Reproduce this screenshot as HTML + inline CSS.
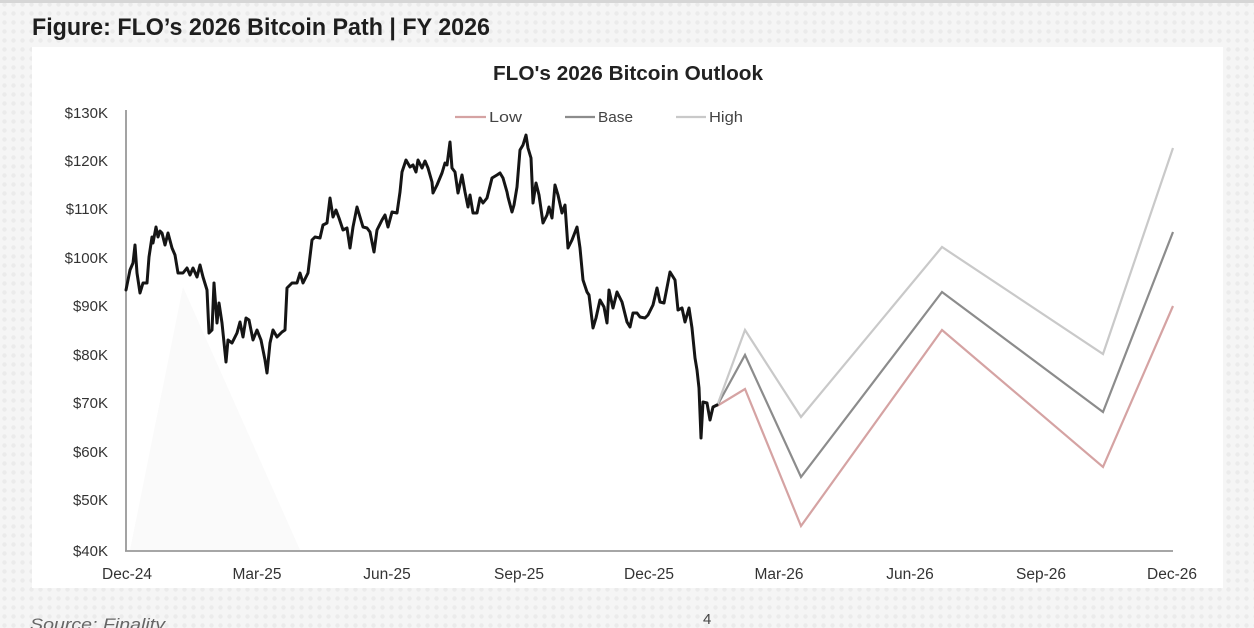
<!DOCTYPE html>
<html>
<head>
<meta charset="utf-8">
<style>
html,body{margin:0;padding:0;background:#f4f4f4;}
svg{display:block;}
text{font-family:"Liberation Sans","DejaVu Sans",sans-serif;}
</style>
</head>
<body>
<svg width="1254" height="628" viewBox="0 0 1254 628" xmlns="http://www.w3.org/2000/svg">
  <defs>
    <pattern id="dots" width="9" height="9" patternUnits="userSpaceOnUse">
      <rect width="9" height="9" fill="#f5f5f5"/>
      <circle cx="4.5" cy="4.5" r="2.2" fill="#ebebeb"/>
    </pattern>
  </defs>
  <rect x="0" y="0" width="1254" height="628" fill="url(#dots)"/>
  <rect x="0" y="0" width="1254" height="3" fill="#d6d6d6"/>
  <!-- white chart area -->
  <rect x="32" y="47" width="1191" height="541" fill="#ffffff"/>
  <!-- faint watermark triangle -->
  <polygon points="183,287 130,550 300,550" fill="#fafafa"/>

  <!-- Titles -->
  <text x="32" y="35" font-size="24" font-weight="bold" fill="#1e1e1e" textLength="458" lengthAdjust="spacingAndGlyphs">Figure: FLO’s 2026 Bitcoin Path | FY 2026</text>
  <text x="493" y="80" font-size="20" font-weight="bold" fill="#222" textLength="270" lengthAdjust="spacingAndGlyphs">FLO's 2026 Bitcoin Outlook</text>

  <!-- Legend -->
  <line x1="455" y1="117" x2="486" y2="117" stroke="#d5a3a3" stroke-width="2.2"/>
  <text x="489" y="122" font-size="15" fill="#444" textLength="33" lengthAdjust="spacingAndGlyphs">Low</text>
  <line x1="565" y1="117" x2="595" y2="117" stroke="#8c8c8c" stroke-width="2.2"/>
  <text x="598" y="122" font-size="15" fill="#444" textLength="35" lengthAdjust="spacingAndGlyphs">Base</text>
  <line x1="676" y1="117" x2="706" y2="117" stroke="#c9c9c9" stroke-width="2.2"/>
  <text x="709" y="122" font-size="15" fill="#444" textLength="34" lengthAdjust="spacingAndGlyphs">High</text>

  <!-- Y axis labels -->
  <g font-size="15" fill="#333" text-anchor="end">
    <text x="108" y="118">$130K</text>
    <text x="108" y="166">$120K</text>
    <text x="108" y="214">$110K</text>
    <text x="108" y="263">$100K</text>
    <text x="108" y="311">$90K</text>
    <text x="108" y="360">$80K</text>
    <text x="108" y="408">$70K</text>
    <text x="108" y="457">$60K</text>
    <text x="108" y="505">$50K</text>
    <text x="108" y="556">$40K</text>
  </g>

  <!-- X axis labels -->
  <g font-size="15.5" fill="#333" text-anchor="middle">
    <text x="127" y="579">Dec-24</text>
    <text x="257" y="579">Mar-25</text>
    <text x="387" y="579">Jun-25</text>
    <text x="519" y="579">Sep-25</text>
    <text x="649" y="579">Dec-25</text>
    <text x="779" y="579">Mar-26</text>
    <text x="910" y="579">Jun-26</text>
    <text x="1041" y="579">Sep-26</text>
    <text x="1172" y="579">Dec-26</text>
  </g>

  <!-- Axes -->
  <line x1="126" y1="110" x2="126" y2="551" stroke="#999" stroke-width="1.8"/>
  <line x1="125" y1="551" x2="1173" y2="551" stroke="#999" stroke-width="1.8"/>

  <!-- Forecast lines -->
  <polyline fill="none" stroke="#d5a3a3" stroke-width="2.2"
    points="717,406 745,389 801,526 942,330 1103,467 1173,306"/>
  <polyline fill="none" stroke="#8c8c8c" stroke-width="2.2"
    points="717,406 745,355 801,477 942,292 1103,412 1173,232"/>
  <polyline fill="none" stroke="#c9c9c9" stroke-width="2.2"
    points="717,406 745,330 801,417 942,247 1103,354 1173,148"/>

  <!-- Historical BTC price -->
  <polyline fill="none" stroke="#151515" stroke-width="3" stroke-linejoin="round" stroke-linecap="round"
    points="126,290 130,270 133,263 135,245 137,273 140,293 143,283 147,283 149,257 152,237 153,243 156,227 158,237 160,231 162,233 165,245 168,233 172,248 175,255 178,273 183,273 187,268 190,275 193,268 197,277 200,265 203,277 207,290 209,333 212,330 214,283 217,323 219,303 222,323 226,362 228,340 232,343 237,333 240,322 243,337 246,318 249,320 253,340 257,330 261,340 265,360 267,373 270,343 273,330 277,337 282,332 285,330 287,288 292,283 297,283 300,273 303,283 308,273 312,240 315,237 320,238 323,225 327,223 330,198 333,217 336,210 339,218 343,230 347,228 350,248 353,227 357,207 360,217 363,227 367,228 370,232 374,252 377,230 382,220 385,215 388,227 392,212 397,213 400,192 402,172 406,160 410,167 413,165 416,172 418,160 422,168 425,161 428,168 432,182 433,193 437,185 442,173 445,163 447,165 450,142 452,168 455,172 458,193 462,175 465,192 468,207 470,195 473,213 477,213 480,198 483,203 487,198 492,178 497,175 500,173 503,178 507,192 508,197 512,212 514,205 517,187 520,150 523,145 526,135 528,148 531,158 533,203 536,183 539,195 543,223 547,215 549,207 552,218 555,185 558,195 562,213 565,205 568,248 572,240 577,227 580,248 583,280 587,292 589,295 593,328 596,318 600,300 604,307 607,323 609,290 613,308 617,292 622,302 627,322 630,327 633,313 637,313 640,317 645,318 648,315 653,305 657,288 660,302 664,303 670,272 675,280 678,310 682,308 685,322 689,308 692,328 695,358 697,370 699,388 701,438 703,402 707,403 710,420 713,407 717,405"/>

  <!-- Footer -->
  <text x="30" y="630" font-size="17" font-style="italic" fill="#666" textLength="135" lengthAdjust="spacingAndGlyphs">Source: Finality</text>
  <text x="703" y="624" font-size="15" fill="#444">4</text>
</svg>
</body>
</html>
